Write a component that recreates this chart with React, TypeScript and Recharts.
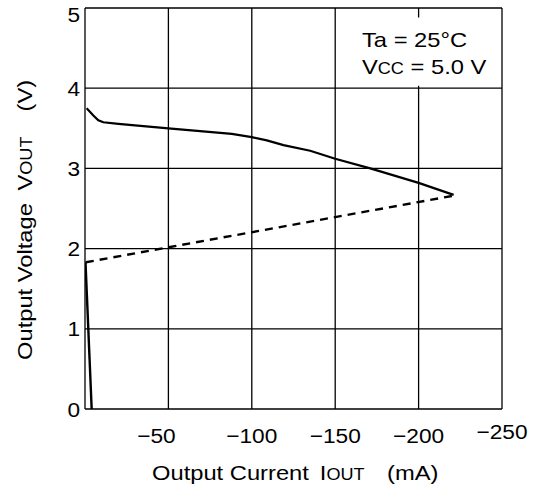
import React from "react";
import { LineChart, Line, XAxis, YAxis, CartesianGrid, ReferenceArea, Label } from "recharts";

const xTicks = [-250, -200, -150, -100, -50, 0];
const yTicks = [0, 1, 2, 3, 4, 5];

const highCurrent = [-1, -5, -8, -11, -20, -50, -88, -100, -109, -119, -135, -150, -171, -200, -221];
const highVoltage = [3.75, 3.66, 3.6, 3.575, 3.555, 3.5, 3.43, 3.39, 3.35, 3.29, 3.22, 3.12, 3.0, 2.82, 2.67];

const lowCurrent = [-0.5, -221];
const lowVoltage = [1.83, 2.66];

const dropCurrent = [-0.3, -4];
const dropVoltage = [1.83, 0];

const toRows = (xs: number[], ys: number[]) => xs.map((i, k) => ({ i, v: ys[k] }));
const highData = toRows(highCurrent, highVoltage);
const lowData = toRows(lowCurrent, lowVoltage);
const dropData = toRows(dropCurrent, dropVoltage);

const FONT = "'Liberation Sans', Arial, Helvetica, sans-serif";
const FS = 21;
const SX = 1.13;
const TSX = 1.08;

const XTick = (props: any) => {
  const { x, y, payload } = props;
  const val = payload.value as number;
  if (val === 0) return null;
  const label = "\u2212" + Math.abs(val);
  let dx = 0;
  let dy = 34;
  if (val === -50) dx = -12;
  if (val === -250) dy = 30;
  return (
    <g transform={`translate(${x + dx},${y + dy}) scale(${TSX},1)`}>
      <text x={0} y={0} textAnchor="middle" fontFamily={FONT} fontSize={FS} fill="#000">
        {label}
      </text>
    </g>
  );
};

const YTick = (props: any) => {
  const { x, y, payload } = props;
  const val = payload.value as number;
  const dy = val === 5 ? 14 : 7.5;
  return (
    <g transform={`translate(${x - 5},${y + dy}) scale(${TSX},1)`}>
      <text x={0} y={0} textAnchor="end" fontFamily={FONT} fontSize={FS} fill="#000">
        {String(val)}
      </text>
    </g>
  );
};

const XTitle = () => (
  <g transform={`translate(152,480) scale(${SX},1)`}>
    <text y={0} fontFamily={FONT} fontSize={FS} fill="#000">
      <tspan x={0}>Output Current</tspan>
      <tspan x={148.5}>I</tspan>
      <tspan fontSize={16}>OUT</tspan>
      <tspan x={208}>(mA)</tspan>
    </text>
  </g>
);

const YTitle = () => (
  <g transform={`translate(32,360) rotate(-90) scale(${SX},1)`}>
    <text y={0} fontFamily={FONT} fontSize={FS} fill="#000">
      <tspan x={0}>Output Voltage</tspan>
      <tspan x={150}>V</tspan>
      <tspan fontSize={16}>OUT</tspan>
      <tspan x={220}>(V)</tspan>
    </text>
  </g>
);

const Note = () => (
  <g fontFamily={FONT} fontSize={FS} fill="#000">
    <g transform={`translate(362,47) scale(${SX},1)`}>
      <text x={0} y={0}>Ta = 25°C</text>
    </g>
    <g transform={`translate(362,74) scale(${SX},1)`}>
      <text x={0} y={0}>
        V<tspan fontSize={16}>CC</tspan> = 5.0 V
      </text>
    </g>
  </g>
);

export default function App() {
  return (
    <div style={{ position: "absolute", left: 0, top: 0, background: "#fff" }}>
      <LineChart width={533} height={491} margin={{ top: 8, right: 31, bottom: 0, left: 0 }}>
        <CartesianGrid stroke="#000" strokeWidth={1.3} horizontalValues={yTicks} verticalValues={xTicks} />
        <XAxis
          dataKey="i"
          type="number"
          domain={[-250, 0]}
          reversed
          ticks={xTicks}
          tick={<XTick />}
          tickLine={false}
          axisLine={false}
          tickSize={0}
          tickMargin={0}
          height={82}
          allowDataOverflow
          interval={0}
        >
          <Label content={() => <XTitle />} />
        </XAxis>
        <YAxis
          type="number"
          domain={[0, 5]}
          ticks={yTicks}
          tick={<YTick />}
          tickLine={false}
          axisLine={false}
          tickSize={0}
          tickMargin={0}
          width={85}
          allowDataOverflow
          interval={0}
        >
          <Label content={() => <YTitle />} />
        </YAxis>
        <ReferenceArea x1={-162} x2={-238} y1={4.03} y2={4.88} fill="#fff" fillOpacity={1} stroke="none" ifOverflow="visible" />
        <Line data={highData} dataKey="v" type="linear" stroke="#000" strokeWidth={2.2} dot={false} isAnimationActive={false} />
        <Line data={lowData} dataKey="v" type="linear" stroke="#000" strokeWidth={2.4} strokeDasharray="8 6" dot={false} isAnimationActive={false} />
        <Line data={dropData} dataKey="v" type="linear" stroke="#000" strokeWidth={2.4} dot={false} isAnimationActive={false} />
        <ReferenceArea x1={-250} x2={-250} y1={5} y2={5} fill="none" stroke="none" label={<Note />} ifOverflow="visible" />
      </LineChart>
    </div>
  );
}
